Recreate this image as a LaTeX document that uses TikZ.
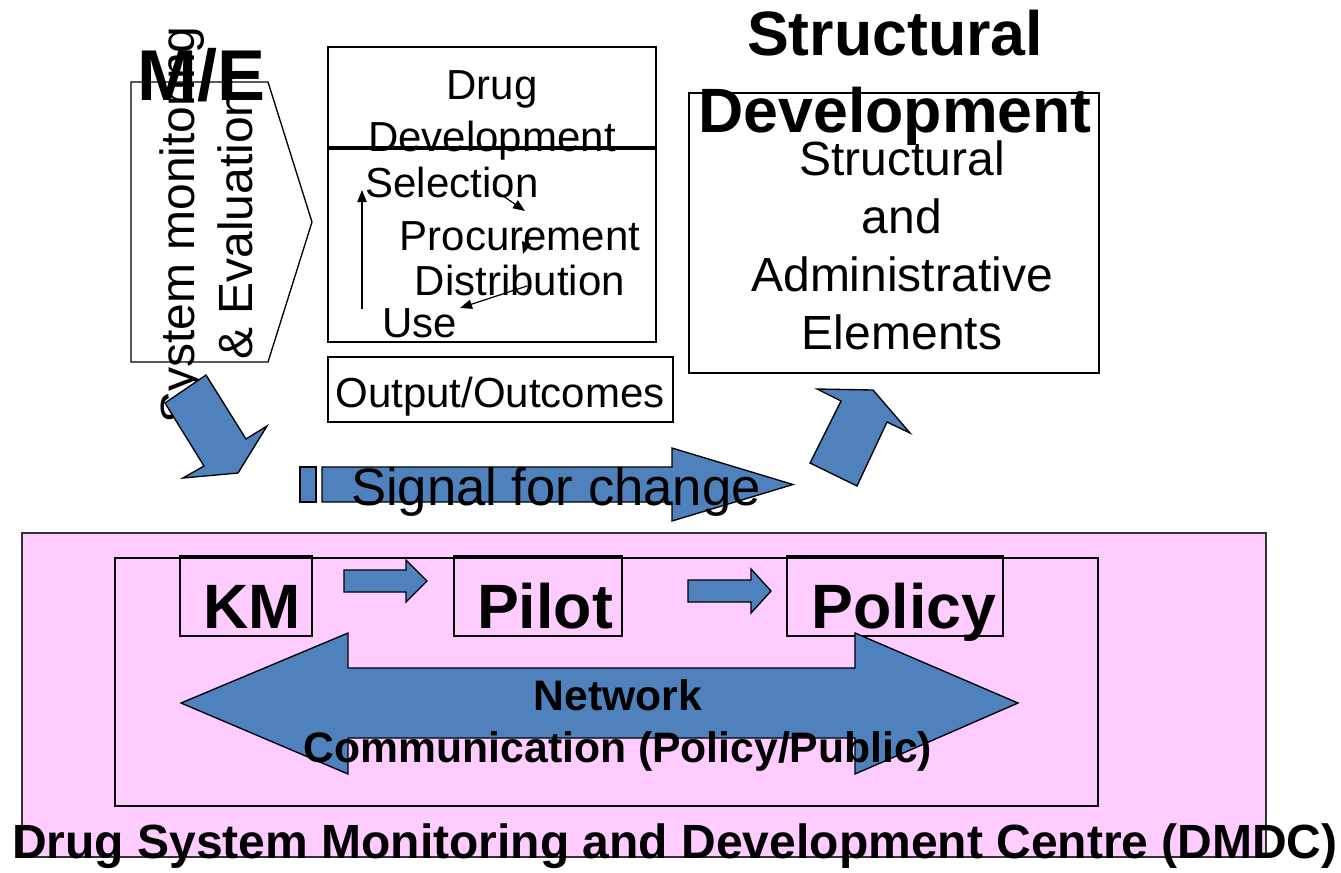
\documentclass[tikz,border=0pt]{standalone}
\usepackage{fontspec}
\setmainfont{Liberation Sans}
\usetikzlibrary{arrows.meta}

\definecolor{blockblue}{HTML}{4F81BD}
\definecolor{dmdcpink}{HTML}{FFCCFF}

\tikzset{
    box/.style={draw=black, line width=1pt},
    blockarrow/.style={draw=black, line width=1pt, fill=blockblue, line join=miter},
    cyclearrow/.style={line width=0.9pt, -{Triangle[length=9pt,width=7pt]}},
    plaintext/.style={inner sep=0pt, font=\fontsize{31.5}{39}\selectfont},
    largetext/.style={inner sep=0pt, font=\fontsize{36}{43.5}\selectfont},
    signaltext/.style={inner sep=0pt, font=\fontsize{39.5}{47}\selectfont},
    headtext/.style={inner sep=0pt, font=\bfseries\fontsize{47}{57.5}\selectfont},
    metext/.style={inner sep=0pt, font=\bfseries\fontsize{54}{60}\selectfont},
    nettext/.style={inner sep=0pt, font=\bfseries\fontsize{32}{39}\selectfont},
    centretext/.style={inner sep=0pt, font=\bfseries\fontsize{36}{43}\selectfont},
}

\begin{document}
\begin{tikzpicture}[x=0.75pt, y=-0.75pt]
    \useasboundingbox (0,0) rectangle (1341,872);

    \draw[box] (131,82) -- (268,82) -- (312,222) -- (268,362) -- (131,362) -- cycle;
    \node[largetext, rotate=90, align=center] (sysmon) at (206,225) {System monitoring\\\& Evaluation};
    \node[metext, anchor=base] (metitle) at (201.5,100) {M/E};
    \draw[blockarrow] (206,375) -- (165,403) -- (204,466) -- (183,478) -- (238,473) -- (267,426) -- (246,439) -- cycle;

    \draw[box] (328,47) rectangle (656,147);
    \node[plaintext, align=center] (drugdev) at (492,115.5) {Drug\\Development};
    \draw[box] (328,149) rectangle (656,342);
    \node[plaintext, anchor=base] (sel) at (452,197) {Selection};
    \node[plaintext, anchor=base] (proc) at (520,250) {Procurement};
    \node[plaintext, anchor=base] (dist) at (520,295) {Distribution};
    \node[plaintext, anchor=base] (use) at (420,337) {Use};
    \draw[cyclearrow] ([shift={(41,-8)}]sel.base) -- ([shift={(5,-39)}]proc.base);
    \draw[cyclearrow] ([shift={(9,-15)}]proc.base) -- ([shift={(3,-41)}]dist.base);
    \draw[cyclearrow] ([shift={(7,-9)}]dist.base) -- ([shift={(40,-29)}]use.base);
    \draw[cyclearrow] ([shift={(-58,-28)}]use.base) -- ([shift={(-90,-7)}]sel.base);

    \draw[box] (328,357) rectangle (673,422);
    \node[plaintext, anchor=base] (outcomes) at (500,407) {Output/Outcomes};

    \draw[box] (689,93) rectangle (1099,373);
    \node[largetext, align=center] (elements) at (902,245) {Structural\\and\\Administrative\\Elements};
    \node[headtext, align=center] (sdhead) at (895,77.5) {Structural\\Development};
    \draw[blockarrow] (810,463) -- (857,486) -- (887,422) -- (910,433) -- (873,390) -- (817,389) -- (841,401) -- cycle;

    \draw[blockarrow] (300,467) rectangle (316,502);
    \draw[blockarrow] (322,467) -- (672,467) -- (672,448) -- (793,484.5) -- (672,521) -- (672,502) -- (322,502) -- cycle;
    \node[signaltext, anchor=base] (signal) at (556,505) {Signal for change};

    \draw[fill=dmdcpink, draw=black!80, line width=1pt] (22,533) rectangle (1266,857);
    \draw[box] (115,558) rectangle (1098,806);
    \draw[box] (180,556) rectangle (312,636);
    \draw[box] (454,556) rectangle (622,636);
    \draw[box] (787,556) rectangle (1003,636);
    \node[headtext, anchor=base] (km) at (252,628) {KM};
    \node[headtext, anchor=base] (pilot) at (545,628) {Pilot};
    \node[headtext, anchor=base] (policy) at (904,628) {Policy};
    \draw[blockarrow] (344,570) -- (406,570) -- (406,560) -- (427,581) -- (406,602) -- (406,592) -- (344,592) -- cycle;
    \draw[blockarrow] (688,580) -- (751,580) -- (751,569) -- (771,591) -- (751,613) -- (751,602) -- (688,602) -- cycle;
    \draw[blockarrow] (181,703) -- (348,633) -- (348,668) -- (855,668) -- (855,633) -- (1018,703) -- (855,774) -- (855,738) -- (348,738) -- (348,774) -- cycle;
    \node[nettext, align=center] (network) at (618,725) {Network\\Communication (Policy/Public)};
    \node[centretext, anchor=base] (dmdc) at (675,858) {Drug System Monitoring and Development Centre (DMDC)};
\end{tikzpicture}
\end{document}
